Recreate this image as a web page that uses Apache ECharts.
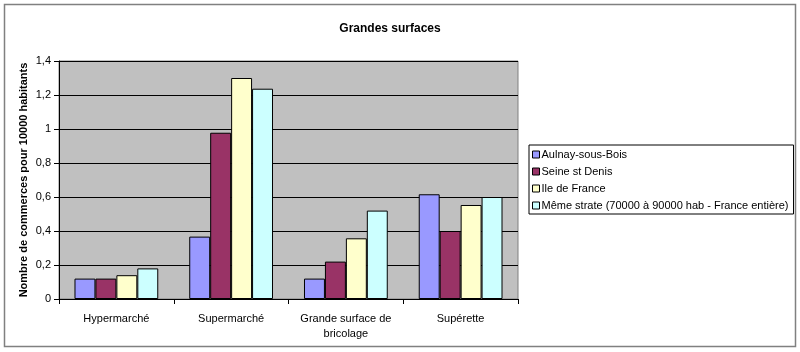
<!DOCTYPE html>
<html>
<head>
<meta charset="utf-8">
<script src="https://cdn.jsdelivr.net/npm/echarts@6/dist/echarts.min.js"></script>
<style>
  html, body { margin: 0; padding: 0; background: #fff; }
  #chart { width: 800px; height: 352px; }
</style>
</head>
<body>
<div id="chart"></div>
<script>
const categories = ['Hypermarché', 'Supermarché', 'Grande surface de\nbricolage', 'Supérette'];
const aulnay = [0.12, 0.367, 0.12, 0.616];
const seineStDenis = [0.12, 0.978, 0.22, 0.40];
const ileDeFrance = [0.14, 1.30, 0.357, 0.553];
const memeStrate = [0.18, 1.237, 0.52, 0.60];
const seriesNames = [
  'Aulnay-sous-Bois',
  'Seine st Denis',
  'Ile de France',
  'Même strate (70000 à 90000 hab - France entière)'
];
const colors = ['#9999FF', '#993366', '#FFFFCC', '#CCFFFF'];

const chart = echarts.init(document.getElementById('chart'));

const makeSeries = (name, data, color) => ({
  name,
  type: 'bar',
  data,
  barGap: '0%',
  barCategoryGap: '27%',
  itemStyle: { color, borderColor: '#000', borderWidth: 1 },
  emphasis: { disabled: true },
});

chart.setOption({
  animation: false,
  color: colors,
  textStyle: { fontFamily: 'Liberation Sans, Arial, sans-serif' },
  title: {
    text: 'Grandes surfaces',
    left: 385,
    top: 18,
    textAlign: 'center',
    textStyle: { fontSize: 12, fontWeight: 'bold', color: '#000' },
  },
  graphic: [
    {
      type: 'rect',
      shape: { x: 4.5, y: 4.5, width: 791, height: 342 },
      style: { fill: 'none', stroke: '#808080', lineWidth: 1.5 },
      silent: true,
    },
  ],
  legend: {
    orient: 'vertical',
    left: 529,
    top: 145,
    itemWidth: 7,
    itemHeight: 7,
    itemGap: 6,
    icon: 'rect',
    padding: [4, 5, 3, 3],
    borderColor: '#000',
    borderWidth: 1,
    backgroundColor: '#fff',
    textStyle: { fontSize: 11, color: '#000', padding: [0, 0, 0, -3] },
    data: seriesNames.map((n) => ({ name: n, itemStyle: { borderColor: '#000', borderWidth: 1 } })),
  },
  grid: {
    left: 59,
    top: 61,
    width: 459,
    height: 238,
    show: true,
    backgroundColor: '#C0C0C0',
    borderColor: '#808080',
    borderWidth: 1,
  },
  xAxis: {
    type: 'category',
    data: categories,
    axisLine: { lineStyle: { color: '#000' } },
    axisTick: { show: true, length: 5, lineStyle: { color: '#000' } },
    axisLabel: {
      color: '#000',
      fontSize: 11,
      margin: 12,
      lineHeight: 15,
      interval: 0,
    },
  },
  yAxis: {
    type: 'value',
    min: 0,
    max: 1.4,
    interval: 0.2,
    name: 'Nombre de commerces pour 10000 habitants',
    nameLocation: 'middle',
    nameGap: 30,
    nameMoveOverlap: false,
    nameTextStyle: { fontSize: 11, fontWeight: 'bold', color: '#000' },
    axisLine: { show: true, lineStyle: { color: '#000' } },
    axisTick: { show: true, length: 5, lineStyle: { color: '#000' } },
    splitLine: { lineStyle: { color: '#000', width: 1 } },
    axisLabel: {
      color: '#000',
      fontSize: 11,
      margin: 8,
      formatter: (v) => (Math.round(v * 10) / 10).toString().replace('.', ','),
    },
  },
  series: [
    makeSeries(seriesNames[0], aulnay, colors[0]),
    makeSeries(seriesNames[1], seineStDenis, colors[1]),
    makeSeries(seriesNames[2], ileDeFrance, colors[2]),
    makeSeries(seriesNames[3], memeStrate, colors[3]),
  ],
});
</script>
</body>
</html>
